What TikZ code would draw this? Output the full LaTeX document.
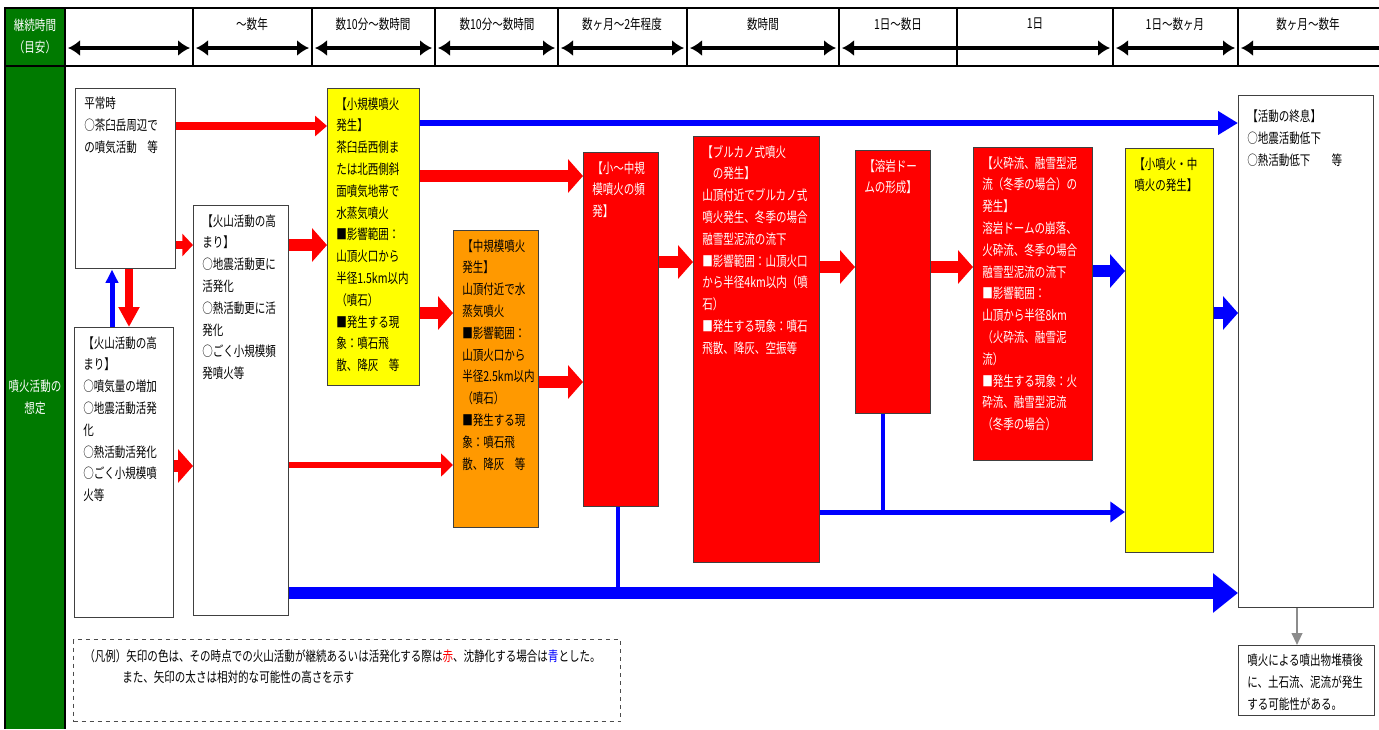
\documentclass[tikz,border=0pt]{standalone}
\usepackage{fontspec}
\setmainfont{Noto Sans CJK JP}[FakeStretch=0.76]
\usetikzlibrary{arrows.meta,calc}
\definecolor{vred}{RGB}{255,0,0}
\definecolor{vblue}{RGB}{0,0,255}
\definecolor{vyel}{RGB}{255,255,0}
\definecolor{vor}{RGB}{255,153,0}
\definecolor{vgreen}{RGB}{0,122,0}
\newcommand\bxfont{\fontsize{10.4pt}{16.35pt}\selectfont}
\newcommand\bx[8]{%
  \node[boxs,fill=#6,minimum width=#4*0.75pt,minimum height=#5*0.75pt] (#1) at (#2,#3) {};
  \node[boxt,text=#7] (#1t) at ($(#1.north west)+(9,9)$) {#8};
}
\tikzset{
  boxs/.style={draw=black!75,line width=1.1pt,anchor=north west,inner sep=0pt},
  boxt/.style={anchor=north west,inner sep=0pt,align=left,font=\bxfont},
  bigA/.style={line width=9pt,-{Triangle[width=24.75pt,length=11.25pt]}},
  midA/.style={line width=6pt,-{Triangle[width=15pt,length=9pt]}},
  thinA/.style={line width=4.5pt,-{Triangle[width=17pt,length=9pt]}},
  hdr/.style={line width=3pt,{Latex[width=12pt,length=9pt]}-{Latex[width=12pt,length=9pt]}},
  hdrl/.style={line width=3pt,{Latex[width=12pt,length=9pt]}-},
  lab/.style={font=\bxfont,inner sep=0pt},
  wlab/.style={font=\bxfont,inner sep=0pt,text=white,align=center},
}
\begin{document}
\begin{tikzpicture}[x=0.75pt,y=-0.75pt]
\useasboundingbox (0,0) rectangle (1379,729);
% ---- frame and header ----
\fill[vgreen] (5,8) rectangle (65,729);
\draw[line width=1.5pt] (1379,8) -- (5,8) -- (5,729);
\draw[line width=0.8pt] (65,8) -- (65,729);
\foreach \x in {193,312,435,558,687,839,957,1113,1238}
  \draw[line width=0.8pt] (\x,8) -- (\x,66);
\draw[line width=2pt] (5,66) -- (1379,66);
\foreach \a/\b [count=\i] in {65/193,193/312,312/435,435/558,558/687,687/839,839/1113,1113/1238}{
  \coordinate (hl\i) at (\a+3,48);
  \coordinate (hr\i) at (\b-3,48);
  \draw[hdr] (hl\i) -- (hr\i);
}
\coordinate (hl9) at (1241,48);
\coordinate (hr9) at (1379,48);
\draw[hdrl] (hl9) -- (hr9);
\node[lab] (t1) at (252,24) {～数年};
\node[lab] (t2) at (373,24) {数10分～数時間};
\node[lab] (t3) at (497,24) {数10分～数時間};
\node[lab] (t4) at (622,24) {数ヶ月～2年程度};
\node[lab] (t5) at (763,24) {数時間};
\node[lab] (t6) at (898,24) {1日～数日};
\node[lab] (t7) at (1035,24) {1日};
\node[lab] (t8) at (1175,24) {1日～数ヶ月};
\node[lab] (t9) at (1308,24) {数ヶ月～数年};
\node[wlab] (g1) at (35,36) {継続時間\\（目安）};
\node[wlab] (g2) at (35,397) {噴火活動の\\想定};
% ---- boxes ----
\bx{A}{75}{88}{100}{180}{white}{black}{平常時\\○茶臼岳周辺で\\の噴気活動　等}
\bx{B}{74}{327}{99}{290}{white}{black}{【火山活動の高\\まり】\\○噴気量の増加\\○地震活動活発\\化\\○熱活動活発化\\○ごく小規模噴\\火等}
\bx{C}{193}{205}{95}{410}{white}{black}{【火山活動の高\\まり】\\○地震活動更に\\活発化\\○熱活動更に活\\発化\\○ごく小規模頻\\発噴火等}
\bx{D}{327}{88}{92}{297}{vyel}{black}{【小規模噴火\\発生】\\茶臼岳西側ま\\たは北西側斜\\面噴気地帯で\\水蒸気噴火\\■影響範囲：\\山頂火口から\\半径1.5km以内\\（噴石）\\■発生する現\\象：噴石飛\\散、降灰　等}
\bx{E}{453}{230}{85}{297}{vor}{black}{【中規模噴火\\発生】\\山頂付近で水\\蒸気噴火\\■影響範囲：\\山頂火口から\\半径2.5km以内\\（噴石）\\■発生する現\\象：噴石飛\\散、降灰　等}
\bx{F}{583}{152}{75}{354}{vred}{white}{【小～中規\\模噴火の頻\\発】}
\bx{G}{693}{136}{126}{426}{vred}{white}{【ブルカノ式噴火\\　の発生】\\山頂付近でブルカノ式\\噴火発生、冬季の場合\\融雪型泥流の流下\\■影響範囲：山頂火口\\から半径4km以内（噴\\石）\\■発生する現象：噴石\\飛散、降灰、空振等}
\bx{H}{855}{150}{75}{263}{vred}{white}{【溶岩ドー\\ムの形成】}
\bx{I}{973}{147}{119}{313}{vred}{white}{【火砕流、融雪型泥\\流（冬季の場合）の\\発生】\\溶岩ドームの崩落、\\火砕流、冬季の場合\\融雪型泥流の流下\\■影響範囲：\\山頂から半径8km\\（火砕流、融雪泥\\流）\\■発生する現象：火\\砕流、融雪型泥流\\（冬季の場合）}
\bx{J}{1125}{148}{88}{404}{vyel}{black}{【小噴火・中\\噴火の発生】}
\bx{K}{1238}{95}{135}{512}{white}{black}{\rule{0pt}{13pt}【活動の終息】\\○地震活動低下\\○熱活動低下　　等}
\bx{L}{1238}{645}{136}{70}{white}{black}{噴火による噴出物堆積後\\に、土石流、泥流が発生\\する可能性がある。}
% ---- legend ----
\node[draw=black!70,dashed,line width=1pt,anchor=north west,inner sep=0pt,minimum width=547*0.75pt,minimum height=82*0.75pt] (leg) at (73,639) {};
\node[boxt] (legt) at ($(leg.north west)+(11,10)$) {（凡例）矢印の色は、その時点での火山活動が継続あるいは活発化する際は{\color{vred}赤}、沈静化する場合は{\color{vblue}青}とした。\\\hspace*{28.5pt}また、矢印の太さは相対的な可能性の高さを示す};
% ---- connectors ----
\coordinate (fj) at (618,593);
\coordinate (hj) at (883,512);
\draw[vblue,line width=3pt] (F.south -| fj) -- (fj);
\draw[vblue,line width=3pt] (H.south -| hj) -- (hj);
\draw[vred,midA] (A.east |- 0,126) -- (D.west |- 0,126);
\draw[vred,line width=6pt,-{Triangle[width=16.5pt,length=8pt]}] (A.east |- 0,245) -- (C.west |- 0,245);
\draw[vred,line width=6pt,-{Triangle[width=15pt,length=15pt]}] (A.south -| 129,0) -- (B.north -| 129,0);
\draw[vblue,line width=3.75pt,-{Triangle[width=9pt,length=10pt]}] (B.north -| 112,0) -- (A.south -| 112,0);
\draw[vred,bigA] (B.east |- 0,466) -- (C.west |- 0,466);
\draw[vred,bigA] (C.east |- 0,245) -- (D.west |- 0,245);
\draw[vred,thinA] (C.east |- 0,465) -- (E.west |- 0,465);
\draw[vblue,line width=9pt,-{Triangle[width=28.5pt,length=18.75pt]}] (C.east |- fj) -- (K.west |- fj);
\draw[vblue,line width=4.5pt,-{Triangle[width=17pt,length=15pt]}] (D.east |- 0,123) -- (K.west |- 0,123);
\draw[vred,bigA] (D.east |- 0,176) -- (F.west |- 0,176);
\draw[vred,bigA] (D.east |- 0,313) -- (E.west |- 0,313);
\draw[vred,bigA] (E.east |- 0,382) -- (F.west |- 0,382);
\draw[vred,bigA] (F.east |- 0,262) -- (G.west |- 0,262);
\draw[vred,bigA] (G.east |- 0,267) -- (H.west |- 0,267);
\draw[vred,bigA] (H.east |- 0,267) -- (I.west |- 0,267);
\draw[vblue,bigA] (I.east |- 0,271) -- (J.west |- 0,271);
\draw[vblue,bigA] (J.east |- 0,313) -- (K.west |- 0,313);
\draw[vblue,line width=3.75pt,-{Triangle[width=15pt,length=11pt]}] (G.east |- hj) -- (J.west |- hj);
\draw[black!45,line width=1.5pt,-{Triangle[width=8pt,length=9pt]}] (K.south -| 1297,0) -- (L.north -| 1297,0);
\end{tikzpicture}
\end{document}
